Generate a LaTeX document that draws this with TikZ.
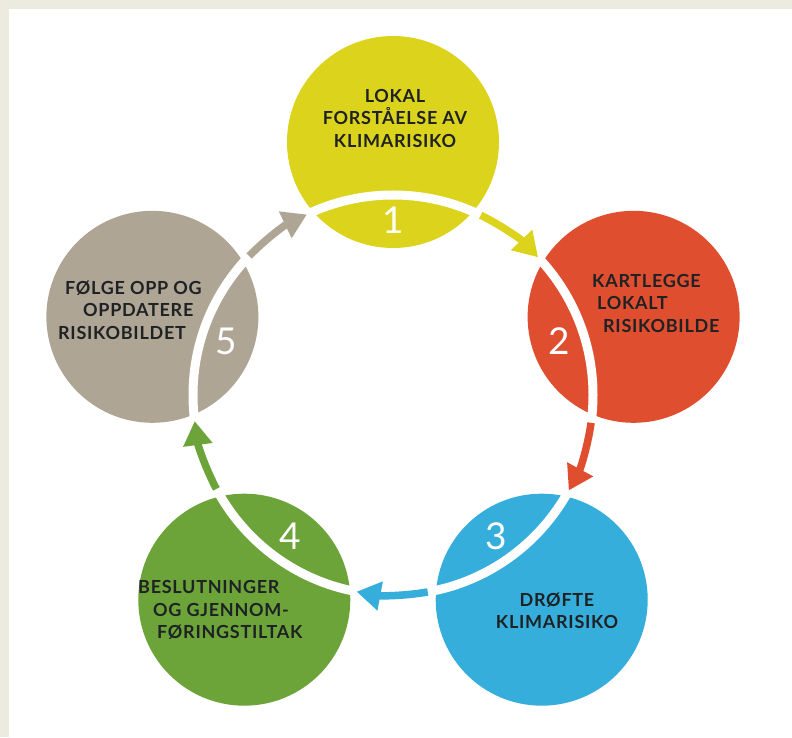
\documentclass[tikz,border=0pt]{standalone}
\usepackage{fontspec}
\setmainfont{Lato}
\newfontfamily\capsfont{Lato}[LetterSpace=4]
\usetikzlibrary{calc,arrows.meta}
\definecolor{frame}{HTML}{EDEAE0}
\definecolor{ylw}{HTML}{DCD41C}
\definecolor{rd}{HTML}{E04E30}
\definecolor{bl}{HTML}{36AEDB}
\definecolor{grn}{HTML}{6DA43A}
\definecolor{tpe}{HTML}{AFA595}
\definecolor{ink}{HTML}{1F2224}
\def\ringarc[#1](#2)(#3:#4:#5){\draw[#1] ($(#2)+(#3:#5pt)$) arc (#3:#4:#5pt);}

\begin{document}
\begin{tikzpicture}[x=1pt,y=1pt,
		stepdisc/.style={circle, inner sep=0pt, minimum size=212pt},
		lbl/.style={inner sep=0pt, text=ink, font=\capsfont\bfseries\fontsize{18}{22.5}\selectfont},
		num/.style={inner sep=0pt, text=white, font=\fontsize{37}{37}\selectfont},
		arr/.style={line width=7.5pt, -{Triangle[width=28pt,length=24pt]}}]
			%%%%% START %%%%%
			
			\useasboundingbox (0,0) rectangle (792,737);
			\fill[frame] (0,0) rectangle (792,737);
			\fill[white] (9,0) rectangle (792,728);
			
			\coordinate (O) at (393,342);
			
			\node[stepdisc, fill=ylw] (c1) at ($(O)+(90:253pt)$) {};
			\node[stepdisc, fill=rd] (c2) at ($(O)+(18:253pt)$) {};
			\node[stepdisc, fill=bl] (c3) at ($(O)+(-54:253pt)$) {};
			\node[stepdisc, fill=grn] (c4) at ($(O)+(-126:253pt)$) {};
			\node[stepdisc, fill=tpe] (c5) at ($(O)+(162:253pt)$) {};
			
			\draw[white, line width=9pt] (O) circle (200pt);
			
			\node[num] (n1) at ($(O)+(90:175pt)$) {1};
			\node[num] (n2) at ($(O)+(18:175pt)$) {2};
			\node[num] (n3) at ($(O)+(-54:175pt)$) {3};
			\node[num] (n4) at ($(O)+(-126:175pt)$) {4};
			\node[num] (n5) at ($(O)+(162:175pt)$) {5};
			
			\ringarc[arr, ylw](O)(64:43.5:200);
			\ringarc[arr, rd](O)(-8:-28.5:200);
			\ringarc[arr, bl](O)(-80:-100.5:200);
			\ringarc[arr, grn](O)(-152:-172.5:200);
			\ringarc[arr, tpe](O)(136:115.5:200);
			
			\node[lbl, align=center] (t1) at (395,619) {LOKAL\\FORSTÅELSE AV\\KLIMARISIKO};
			\node[lbl, align=left, anchor=west] (t2) at (592,434) {KARTLEGGE\\\hspace*{5pt}LOKALT\\\hspace*{11pt}RISIKOBILDE};
			\node[lbl, align=center] (t3) at (557,126) {DRØFTE\\KLIMARISIKO};
			\node[lbl, align=left, anchor=west] (t4) at (138,127) {BESLUTNINGER\\\hspace*{15pt}OG GJENNOM-\\\hspace*{19pt}FØRINGSTILTAK};
			\node[lbl, align=left, anchor=west] (t5) at (58,427) {\hspace*{7pt}FØLGE OPP OG\\\hspace*{25pt}OPPDATERE\\RISIKOBILDET};
			
			%%%%% END %%%%%
		\end{tikzpicture}
\end{document}
